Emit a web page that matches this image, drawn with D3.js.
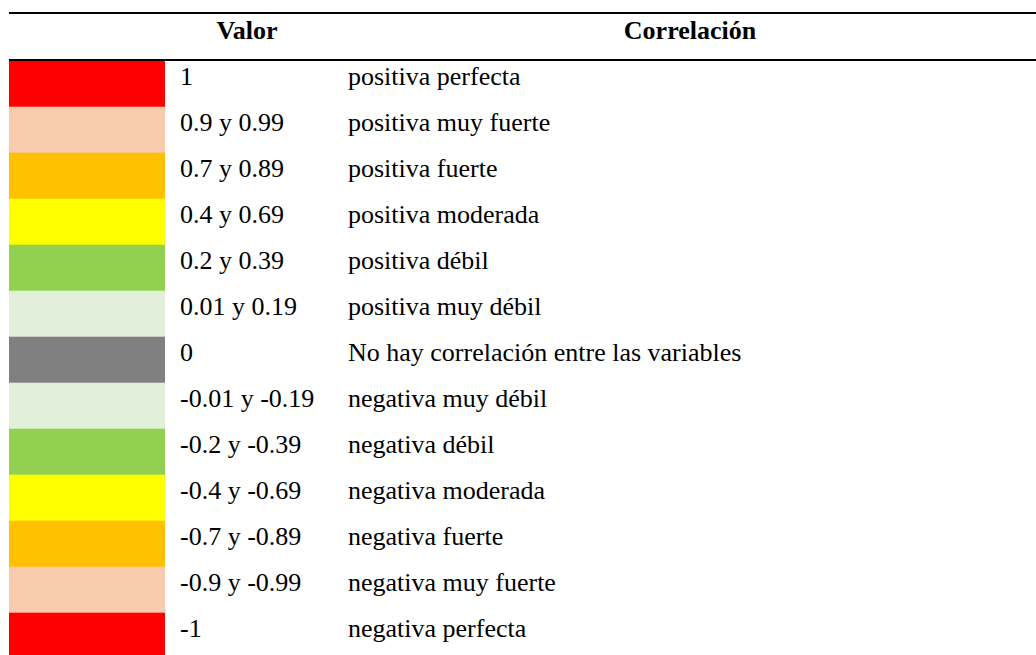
<!DOCTYPE html>
<html>
<head>
<meta charset="utf-8">
<script src="https://cdn.jsdelivr.net/npm/d3@7"></script>
<style>
html, body { margin: 0; padding: 0; background: #fff; }
svg { display: block; }
</style>
</head>
<body>
<script>
const headers = ["Valor", "Correlación"];
const valores = ["1", "0.9 y 0.99", "0.7 y 0.89", "0.4 y 0.69", "0.2 y 0.39", "0.01 y 0.19", "0",
  "-0.01 y -0.19", "-0.2 y -0.39", "-0.4 y -0.69", "-0.7 y -0.89", "-0.9 y -0.99", "-1"];
const correlaciones = ["positiva perfecta", "positiva muy fuerte", "positiva fuerte", "positiva moderada",
  "positiva débil", "positiva muy débil", "No hay correlación entre las variables",
  "negativa muy débil", "negativa débil", "negativa moderada", "negativa fuerte",
  "negativa muy fuerte", "negativa perfecta"];
const colores = ["#FF0000", "#F8CBAD", "#FFC000", "#FFFF00", "#92D050", "#E2EFDA", "#808080",
  "#E2EFDA", "#92D050", "#FFFF00", "#FFC000", "#F8CBAD", "#FF0000"];

const W = 1036, H = 655;
const font = "'Liberation Serif', 'Times New Roman', serif";
const svg = d3.select("body").append("svg").attr("width", W).attr("height", H);
svg.append("rect").attr("width", W).attr("height", H).attr("fill", "#fff");

const rows = d3.range(valores.length);
const y = d3.scaleBand().domain(rows).range([60.7, 60.7 + 46 * rows.length]).padding(0);

const g = svg.append("g");
g.selectAll("rect.cell").data(rows).join("rect")
  .attr("class", "cell")
  .attr("x", 9).attr("width", 156)
  .attr("y", d => y(d)).attr("height", y.bandwidth() + 0.5)
  .attr("fill", d => colores[d]);

g.selectAll("text.val").data(rows).join("text")
  .attr("class", "val")
  .attr("x", 180).attr("y", d => y(d) + 24.6)
  .attr("font-family", font).attr("font-size", 26).attr("fill", "#000")
  .text(d => valores[d]);

g.selectAll("text.cor").data(rows).join("text")
  .attr("class", "cor")
  .attr("x", 348).attr("y", d => y(d) + 24.6)
  .attr("font-family", font).attr("font-size", 26).attr("fill", "#000")
  .text(d => correlaciones[d]);

// header
svg.append("line").attr("x1", 9).attr("x2", W).attr("y1", 13).attr("y2", 13)
  .attr("stroke", "#000").attr("stroke-width", 2);
svg.append("line").attr("x1", 9).attr("x2", W).attr("y1", 60).attr("y2", 60)
  .attr("stroke", "#000").attr("stroke-width", 2);
svg.selectAll("text.hdr").data(headers).join("text")
  .attr("class", "hdr")
  .attr("x", (d, i) => i === 0 ? 247 : 690).attr("y", 38.5)
  .attr("text-anchor", "middle")
  .attr("font-family", font).attr("font-size", 26).attr("font-weight", "bold").attr("fill", "#000")
  .text(d => d);
</script>
</body>
</html>
